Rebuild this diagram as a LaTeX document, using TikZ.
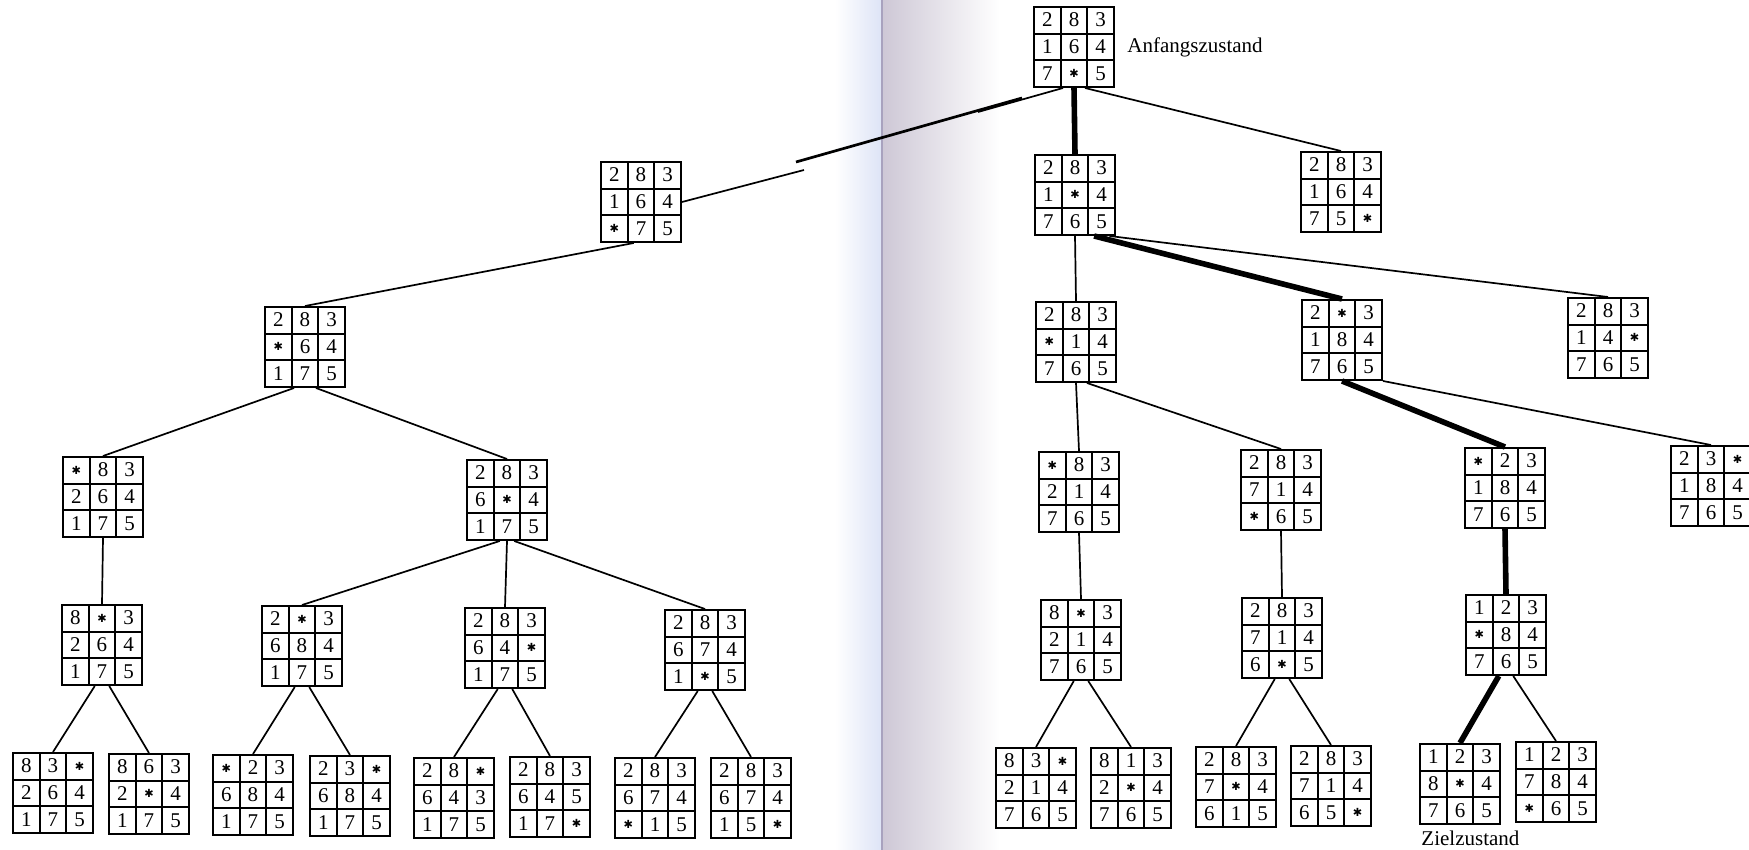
\documentclass[tikz,border=0pt]{standalone}
\usepackage{fontspec}
\setmainfont{Liberation Serif}
\newfontfamily\symfont{DejaVu Sans}
\usetikzlibrary{positioning}
\definecolor{gutblue}{RGB}{222,228,246}
\definecolor{gutgray}{RGB}{206,200,214}
\definecolor{gutline}{RGB}{168,162,190}
\newcommand{\hole}{\raisebox{1.3pt}{\symfont\fontsize{5.6}{5.6}\selectfont ✱}}
\newcommand{\tile}[1]{\makebox[13.33pt]{\rule[-3.4pt]{0pt}{13.33pt}#1}}
\newcommand{\grid}[9]{\vbox{\offinterlineskip
  \hbox{\tile{#1}\tile{#2}\tile{#3}}\hbox{\tile{#4}\tile{#5}\tile{#6}}\hbox{\tile{#7}\tile{#8}\tile{#9}}}}

\begin{document}
\begin{tikzpicture}[x=0.5pt,y=-0.5pt,
  font=\fontsize{10.5}{12}\selectfont,
  puzzle/.style={draw,line width=1pt,fill=white,inner sep=0pt,
    path picture={\foreach \k in {1,2}{
      \draw[line width=.9pt] ([xshift=\k*13.33pt]path picture bounding box.north west) -- ([xshift=\k*13.33pt]path picture bounding box.south west);
      \draw[line width=.9pt] ([yshift=-\k*13.33pt]path picture bounding box.north west) -- ([yshift=-\k*13.33pt]path picture bounding box.north east);}}},
  link/.style={line width=.85pt},
  sol/.style={line width=2.8pt},
  lbl/.style={inner sep=0pt}
]
\useasboundingbox (0,0) rectangle (1749,850);
% gutter of the book
\shade[left color=white,right color=gutblue] (835,0) rectangle (881,850);
\fill[gutline] (881,0) rectangle (883,850);
\shade[left color=gutgray,right color=white] (883,0) rectangle (1000,850);

% level 0 and 1
\node[puzzle] (root) at (1074,47) {\grid{2}{8}{3}{1}{6}{4}{7}{\hole}{5}};
\node[lbl,right=6pt of root] (start) {Anfangszustand};
\node[puzzle] (L1) at (641,202) {\grid{2}{8}{3}{1}{6}{4}{\hole}{7}{5}};
\node[puzzle] (M1) at (1075,195) {\grid{2}{8}{3}{1}{\hole}{4}{7}{6}{5}};
\node[puzzle] (R1) at (1341,192) {\grid{2}{8}{3}{1}{6}{4}{7}{5}{\hole}};
% level 2
\node[puzzle] (L2) at (305,347) {\grid{2}{8}{3}{\hole}{6}{4}{1}{7}{5}};
\node[puzzle] (M2a) at (1076,342) {\grid{2}{8}{3}{\hole}{1}{4}{7}{6}{5}};
\node[puzzle] (M2b) at (1342,340) {\grid{2}{\hole}{3}{1}{8}{4}{7}{6}{5}};
\node[puzzle] (M2c) at (1608,338) {\grid{2}{8}{3}{1}{4}{\hole}{7}{6}{5}};
% level 3
\node[puzzle] (L3a) at (103,497) {\grid{\hole}{8}{3}{2}{6}{4}{1}{7}{5}};
\node[puzzle] (L3b) at (507,500) {\grid{2}{8}{3}{6}{\hole}{4}{1}{7}{5}};
\node[puzzle] (M3a) at (1079,492) {\grid{\hole}{8}{3}{2}{1}{4}{7}{6}{5}};
\node[puzzle] (M3b) at (1281,490) {\grid{2}{8}{3}{7}{1}{4}{\hole}{6}{5}};
\node[puzzle] (M3c) at (1505,488) {\grid{\hole}{2}{3}{1}{8}{4}{7}{6}{5}};
\node[puzzle] (M3d) at (1711,486) {\grid{2}{3}{\hole}{1}{8}{4}{7}{6}{5}};
% level 4
\node[puzzle] (L4a) at (102,645) {\grid{8}{\hole}{3}{2}{6}{4}{1}{7}{5}};
\node[puzzle] (L4b) at (302,646) {\grid{2}{\hole}{3}{6}{8}{4}{1}{7}{5}};
\node[puzzle] (L4c) at (505,648) {\grid{2}{8}{3}{6}{4}{\hole}{1}{7}{5}};
\node[puzzle] (L4d) at (705,650) {\grid{2}{8}{3}{6}{7}{4}{1}{\hole}{5}};
\node[puzzle] (M4a) at (1081,640) {\grid{8}{\hole}{3}{2}{1}{4}{7}{6}{5}};
\node[puzzle] (M4b) at (1282,638) {\grid{2}{8}{3}{7}{1}{4}{6}{\hole}{5}};
\node[puzzle] (M4c) at (1506,635) {\grid{1}{2}{3}{\hole}{8}{4}{7}{6}{5}};
% level 5
\node[puzzle] (L5a) at (53,793) {\grid{8}{3}{\hole}{2}{6}{4}{1}{7}{5}};
\node[puzzle] (L5b) at (149,794) {\grid{8}{6}{3}{2}{\hole}{4}{1}{7}{5}};
\node[puzzle] (L5c) at (253,795) {\grid{\hole}{2}{3}{6}{8}{4}{1}{7}{5}};
\node[puzzle] (L5d) at (350,796) {\grid{2}{3}{\hole}{6}{8}{4}{1}{7}{5}};
\node[puzzle] (L5e) at (454,798) {\grid{2}{8}{\hole}{6}{4}{3}{1}{7}{5}};
\node[puzzle] (L5f) at (550,797) {\grid{2}{8}{3}{6}{4}{5}{1}{7}{\hole}};
\node[puzzle] (L5g) at (655,798) {\grid{2}{8}{3}{6}{7}{4}{\hole}{1}{5}};
\node[puzzle] (L5h) at (751,798) {\grid{2}{8}{3}{6}{7}{4}{1}{5}{\hole}};
\node[puzzle] (M5a) at (1036,788) {\grid{8}{3}{\hole}{2}{1}{4}{7}{6}{5}};
\node[puzzle] (M5b) at (1131,788) {\grid{8}{1}{3}{2}{\hole}{4}{7}{6}{5}};
\node[puzzle] (M5c) at (1236,787) {\grid{2}{8}{3}{7}{\hole}{4}{6}{1}{5}};
\node[puzzle] (M5d) at (1331,786) {\grid{2}{8}{3}{7}{1}{4}{6}{5}{\hole}};
\node[puzzle] (M5e) at (1460,784) {\grid{1}{2}{3}{8}{\hole}{4}{7}{6}{5}};
\node[puzzle] (M5f) at (1556,782) {\grid{1}{2}{3}{7}{8}{4}{\hole}{6}{5}};
\node[lbl,anchor=north west] (goal) at ([xshift=1pt,yshift=-3pt]M5e.south west) {Zielzustand};

% broken edge across the gutter
\coordinate (cutL) at (804,170);
\coordinate (cutA) at (796,162);
\coordinate (cutB) at (1022,98);
\coordinate (cutR) at (978,112);
\draw[link] (L1.east) -- (cutL); \draw[line width=1.35pt] (cutA) -- (cutB); \draw[link] (root.-105) -- (cutR);

\draw[sol] (root.south) -- (M1.north); \draw[link] (root.-75) -- (R1.north);
\draw[link] (L1.-100) -- (L2.north);
\draw[link] (M1.south) -- (M2a.north); \draw[sol] (M1.-65) -- (M2b.north); \draw[link] (M1.-50) -- (M2c.north);
\draw[link] (L2.-105) -- (L3a.north); \draw[link] (L2.-75) -- (L3b.north);
\draw[link] (M2a.south) -- (M3a.north); \draw[link] (M2a.-75) -- (M3b.north);
\draw[sol] (M2b.south) -- (M3c.north); \draw[link] (M2b.south east) -- (M3d.north);
\draw[link] (L3a.south) -- (L4a.north);
\draw[link] (L3b.-100) -- (L4b.north); \draw[link] (L3b.south) -- (L4c.north); \draw[link] (L3b.-80) -- (L4d.north);
\draw[link] (M3a.south) -- (M4a.north); \draw[link] (M3b.south) -- (M4b.north); \draw[sol] (M3c.south) -- (M4c.north);
\foreach \p/\a/\b in {L4a/L5a/L5b,L4b/L5c/L5d,L4c/L5e/L5f,L4d/L5g/L5h,M4a/M5a/M5b,M4b/M5c/M5d}
  {\draw[link] (\p.-100) -- (\a.north); \draw[link] (\p.-80) -- (\b.north);}
\draw[sol] (M4c.-100) -- (M5e.north); \draw[link] (M4c.-80) -- (M5f.north);
\end{tikzpicture}
\end{document}
